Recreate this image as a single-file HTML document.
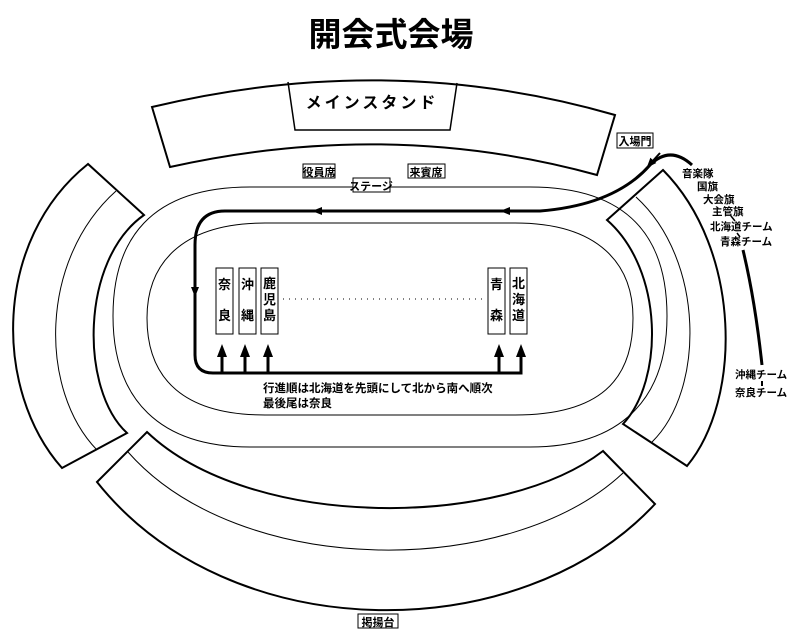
<!DOCTYPE html>
<html><head><meta charset="utf-8"><style>
html,body{margin:0;padding:0;background:#fff}
svg{display:block}
text{font-family:"Liberation Sans","Noto Sans CJK JP",sans-serif;font-weight:bold;fill:#000}
</style></head><body>
<svg width="800" height="642" viewBox="0 0 800 642" xmlns="http://www.w3.org/2000/svg">
<defs>
<marker id="ah" markerWidth="10" markerHeight="10" refX="5" refY="5" orient="auto" markerUnits="userSpaceOnUse"><path d="M0,1 L10,5 L0,9 Z" fill="#000"/></marker>
</defs>
<text x="391" y="46" font-size="33" text-anchor="middle">開会式会場</text>

<!-- top stand -->
<path d="M152,107 Q390,50 615,115 L597,175 Q390,118 170,167 Z" fill="none" stroke="#000" stroke-width="2"/>
<path d="M288,82 L295,130 L450,130 L457,83" fill="none" stroke="#000" stroke-width="1.5"/>
<text x="372" y="108" font-size="16" text-anchor="middle" letter-spacing="3">メインスタンド</text>

<!-- left stand -->
<path d="M88,164 C-7,240 -7,390 62,468 L127,433 C80,390 80,260 144,215 Z" fill="none" stroke="#000" stroke-width="2"/>
<path d="M116,191 C39,260 39,390 97,450" fill="none" stroke="#000" stroke-width="1"/>

<!-- right stand -->
<path d="M663,170 C742,250 742,400 687,466 L623,424 C664,380 664,270 607,220 Z" fill="none" stroke="#000" stroke-width="2"/>
<path d="M636,197 C705,260 705,390 652,442" fill="none" stroke="#000" stroke-width="1"/>

<!-- bottom stand -->
<path d="M147,432 C250,530 500,530 603,451 L655,504 C520,649 230,649 97,482 Z" fill="none" stroke="#000" stroke-width="2"/>
<path d="M128,452 C240,579 510,579 623,473" fill="none" stroke="#000" stroke-width="1"/>

<!-- track -->
<path d="M250,187 L530,187 C640,187 667,250 667,316 C667,400 620,447 530,447 L250,447 C160,447 113,400 113,316 C113,240 150,187 250,187 Z" fill="none" stroke="#000" stroke-width="1"/>
<path d="M265,223 L515,223 C600,223 633,265 633,318 C633,380 600,415 515,415 L265,415 C185,415 147,380 147,318 C147,265 180,223 265,223 Z" fill="none" stroke="#000" stroke-width="1"/>

<!-- labels -->
<rect x="303" y="164" width="32" height="14" fill="#fff" stroke="#000"/>
<text x="319" y="176" font-size="11" text-anchor="middle">役員席</text>
<rect x="408" y="164" width="37" height="14" fill="#fff" stroke="#000"/>
<text x="426" y="176" font-size="11" text-anchor="middle">来賓席</text>
<rect x="353" y="178" width="37" height="14" fill="#fff" stroke="#000"/>
<text x="371" y="190" font-size="11" text-anchor="middle">ステージ</text>
<rect x="617" y="133" width="36" height="15" fill="#fff" stroke="#000"/>
<text x="635" y="145" font-size="11" text-anchor="middle">入場門</text>
<rect x="358" y="614" width="40" height="14" fill="#fff" stroke="#000"/>
<text x="378" y="626" font-size="11" text-anchor="middle">掲揚台</text>

<!-- parade path -->
<path d="M692,165 Q670,145 650,165 Q615,205 540,211 L225,211 Q195,211 195,245 L195,355 Q195,373 213,373 L521,373 L521,350" fill="none" stroke="#000" stroke-width="3"/>
<path d="M660,153 L650,164" stroke="#000" stroke-width="2" marker-end="url(#ah)"/>
<path d="M520,211 L505,211" stroke="#000" stroke-width="1" marker-end="url(#ah)"/>
<path d="M330,211 L317,211" stroke="#000" stroke-width="1" marker-end="url(#ah)"/>
<path d="M195,280 L195,292" stroke="#000" stroke-width="1" marker-end="url(#ah)"/>
<g stroke="#000" stroke-width="3">
<line x1="222" y1="373" x2="222" y2="352"/><line x1="245" y1="373" x2="245" y2="352"/><line x1="268" y1="373" x2="268" y2="352"/><line x1="499" y1="373" x2="499" y2="352"/><line x1="521" y1="373" x2="521" y2="352"/>
</g>
<g fill="#000">
<path d="M217,357 L222,344 L227,357 Z"/><path d="M240,357 L245,344 L250,357 Z"/><path d="M263,357 L268,344 L273,357 Z"/><path d="M494,357 L499,344 L504,357 Z"/><path d="M516,357 L521,344 L526,357 Z"/>
</g>

<!-- team boxes -->
<g fill="#fff" stroke="#000">
<rect x="216" y="268" width="17" height="66"/><rect x="239" y="268" width="17" height="66"/><rect x="261" y="268" width="17" height="66"/><rect x="488" y="268" width="17" height="66"/><rect x="510" y="268" width="17" height="66"/>
</g>
<g font-size="13" text-anchor="middle">
<text x="224.5" y="289">奈</text><text x="224.5" y="320">良</text>
<text x="247.5" y="289">沖</text><text x="247.5" y="320">縄</text>
<text x="269.5" y="288">鹿</text><text x="269.5" y="304">児</text><text x="269.5" y="320">島</text>
<text x="496.5" y="289">青</text><text x="496.5" y="320">森</text>
<text x="518.5" y="288">北</text><text x="518.5" y="304">海</text><text x="518.5" y="320">道</text>
</g>
<line x1="283" y1="299" x2="485" y2="299" stroke="#000" stroke-width="1" stroke-dasharray="1,5"/>

<text x="263" y="392" font-size="11.5">行進順は北海道を先頭にして北から南へ順次</text>
<text x="263" y="407" font-size="11.5">最後尾は奈良</text>

<!-- right list -->
<g font-size="10.5">
<text x="682" y="177">音楽隊</text>
<text x="697" y="190">国旗</text>
<text x="703" y="203">大会旗</text>
<text x="712" y="215">主管旗</text>
<text x="710" y="230">北海道チーム</text>
<text x="720" y="245">青森チーム</text>
<text x="735" y="378">沖縄チーム</text>
<text x="735" y="396">奈良チーム</text>
</g>
<line x1="731" y1="216" x2="735" y2="221" stroke="#000" stroke-width="1.5"/>
<line x1="737" y1="233" x2="740" y2="237" stroke="#000" stroke-width="1.5"/>
<path d="M743,250 Q755,300 762,365" fill="none" stroke="#000" stroke-width="3"/>
<line x1="762" y1="381" x2="762" y2="386" stroke="#000" stroke-width="2"/>
</svg>
</body></html>
